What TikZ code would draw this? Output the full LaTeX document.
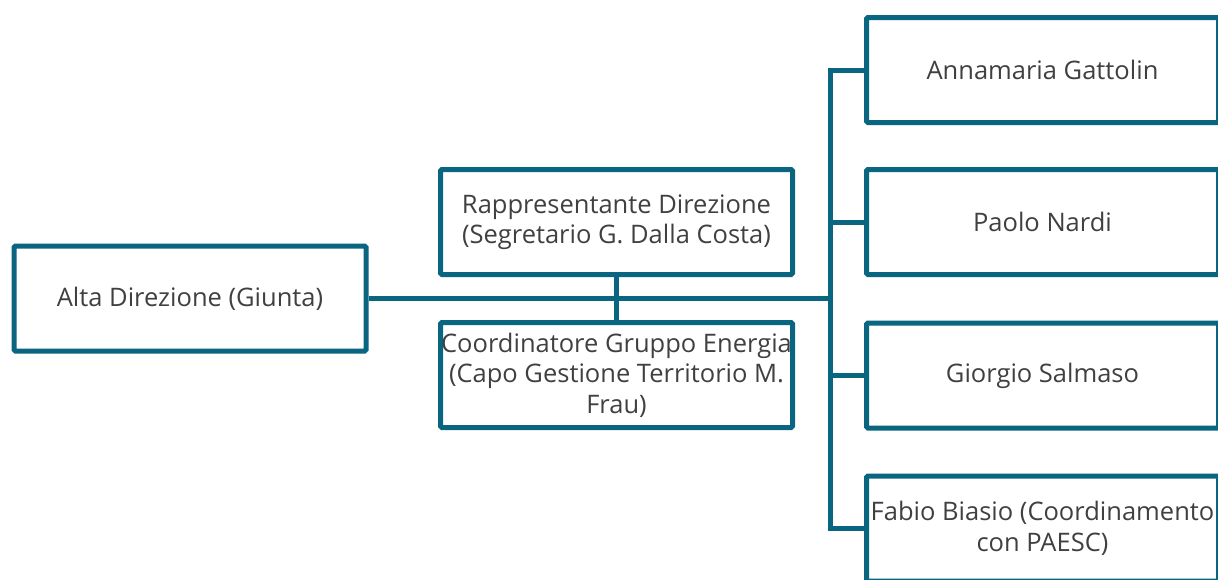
\documentclass[tikz,border=0pt]{standalone}
\usepackage{fontspec}
\setmainfont{Open Sans}
\definecolor{edge}{HTML}{0A6680}
\definecolor{txt}{HTML}{404040}
\begin{document}
\begin{tikzpicture}[x=1pt,y=-1pt,
  box/.style={draw=edge, line width=5pt, rounded corners=1.5pt, fill=white,
    minimum width=352pt, minimum height=105pt, inner sep=0pt,
    align=center, text=txt, font=\fontsize{25.5}{30.5}\selectfont},
  link/.style={draw=edge, line width=5pt}]
\useasboundingbox (0,0) rectangle (1218,579);
\node[box] (alta) at (190,298.5) {Alta Direzione (Giunta)};
\node[box] (rapp) at (616.5,222) {Rappresentante Direzione\\(Segretario G. Dalla Costa)};
\node[box] (coord) at (616.5,375) {Coordinatore Gruppo Energia\\(Capo Gestione Territorio M.\\Frau)};
\node[box] (b1) at (1042.5,70) {Annamaria Gattolin};
\node[box] (b2) at (1042.5,222) {Paolo Nardi};
\node[box] (b3) at (1042.5,375.5) {Giorgio Salmaso};
\node[box] (b4) at (1042.5,528.5) {Fabio Biasio (Coordinamento\\con PAESC)};
\coordinate (tx) at (830,0);
\coordinate (t1) at (b1.west -| tx);
\coordinate (t2) at (b2.west -| tx);
\coordinate (t3) at (b3.west -| tx);
\coordinate (t4) at (b4.west -| tx);
\coordinate (tm) at (alta.east -| tx);
\draw[link] (b1.west) -- (t1) -- (t4) -- (b4.west);
\draw[link] (t2) -- (b2.west);
\draw[link] (t3) -- (b3.west);
\draw[link] (alta.east) -- (tm);
\draw[link] (rapp.south) -- (coord.north);
\end{tikzpicture}
\end{document}
